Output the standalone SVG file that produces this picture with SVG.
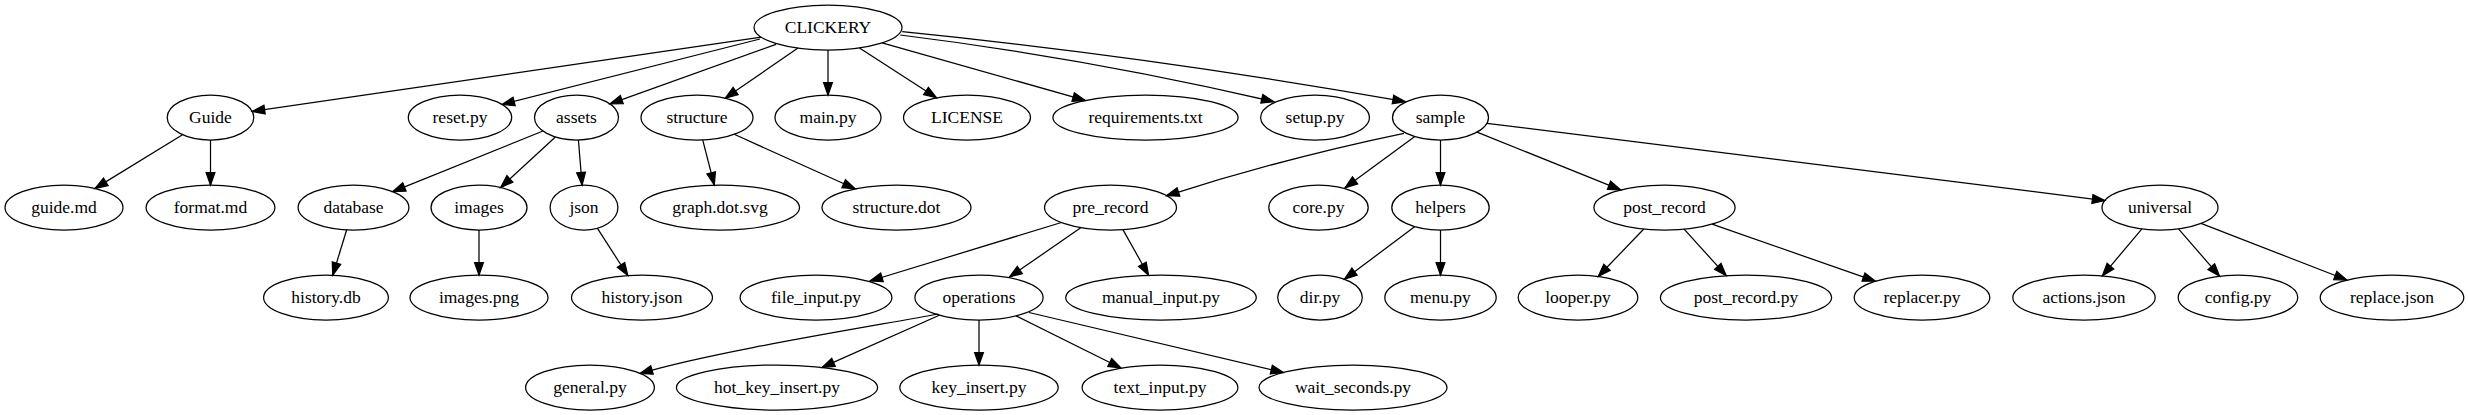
<svg xmlns="http://www.w3.org/2000/svg" width="2468" height="415" viewBox="0 0 2468 415">
<style>
.n ellipse{fill:none;stroke:#000;stroke-width:1.25}
.n text{font-family:'Liberation Serif','DejaVu Serif',serif;font-size:17.5px;text-anchor:middle;fill:#000}
#edges path{fill:none;stroke:#000;stroke-width:1.25;marker-end:url(#ah)}
</style>
<defs>
<marker id="ah" markerUnits="userSpaceOnUse" viewBox="-15 -7 17 14" markerWidth="17" markerHeight="14" refX="0" refY="0" orient="auto" overflow="visible">
<path d="M-12.5,-4.4 L0,0 L-12.5,4.4 Z" fill="#000" stroke="#000" stroke-width="1.25"/>
</marker>
</defs>
<rect width="2468" height="415" fill="#fff"/>
<g id="edges">
<path d="M761.3,37.2 L252.2,111.4"/>
<path d="M760,39 L502,104.5"/>
<path d="M776,44.3 L610,103.8"/>
<path d="M798,48.1 L725.3,98.1"/>
<path d="M828,50 L828,95"/>
<path d="M859.5,47.9 L936.5,97.8"/>
<path d="M882.1,42.8 L1085.2,100.4"/>
<path d="M900.3,35 C1026,50.6 1150.6,72.9 1274,101.7"/>
<path d="M902.2,31.7 C1070.8,48.6 1238.5,72 1405.3,101.7"/>
<path d="M182.5,134.7 L95.1,188.4"/>
<path d="M210.5,140 L210.5,185"/>
<path d="M543,131 L392.8,191.6"/>
<path d="M555.4,137 L500.7,187.4"/>
<path d="M578.4,140 L582.1,185"/>
<path d="M702.7,139.9 L714.3,185"/>
<path d="M734.2,134.3 L855.1,188.8"/>
<path d="M1404,133.3 Q1284.6,158 1166.5,195.8"/>
<path d="M1414.8,136.5 L1345,187.8"/>
<path d="M1440.5,140 L1440.5,185"/>
<path d="M1477,132.1 L1620.6,189.9"/>
<path d="M1486.9,123.3 L2104.8,200.6"/>
<path d="M346.7,229.8 L332.8,275.1"/>
<path d="M479,230 L479,275"/>
<path d="M597.3,228.2 L627.8,275.5"/>
<path d="M1061.4,222.5 L870,281"/>
<path d="M1081.1,227.6 L1009.5,277"/>
<path d="M1122.9,229.6 L1148.5,275.2"/>
<path d="M1414.9,226.6 L1344.5,279.2"/>
<path d="M1440.5,230 L1440.5,275"/>
<path d="M1643.8,229 L1598.3,276.3"/>
<path d="M1684.1,229.1 L1726.2,275.6"/>
<path d="M1712.1,224.1 L1875.3,281.2"/>
<path d="M2141.9,228.9 L2102.4,275.8"/>
<path d="M2178.5,228.8 L2219.5,276.1"/>
<path d="M2201,223.4 L2346.9,280"/>
<path d="M938.3,314 C862,328 712,352 640,373.5"/>
<path d="M939.3,315.2 L822.1,367.4"/>
<path d="M979,320 L979,365"/>
<path d="M1016,315.9 L1120.9,368"/>
<path d="M1029,312.5 L1283.5,372.5"/>
</g>
<g id="CLICKERY" class="n"><ellipse cx="828" cy="27.5" rx="74" ry="22.5"/><text x="828" y="33" font-family="Liberation Serif">CLICKERY</text></g>
<g id="Guide" class="n"><ellipse cx="210.5" cy="117.5" rx="43.3" ry="22.5"/><text x="210.5" y="123" font-family="Liberation Serif">Guide</text></g>
<g id="reset_py" class="n"><ellipse cx="460" cy="117.5" rx="51.7" ry="22.5"/><text x="460" y="123" font-family="Liberation Serif">reset.py</text></g>
<g id="assets" class="n"><ellipse cx="576.5" cy="117.5" rx="42" ry="22.5"/><text x="576.5" y="123" font-family="Liberation Serif">assets</text></g>
<g id="structure" class="n"><ellipse cx="697" cy="117.5" rx="56" ry="22.5"/><text x="697" y="123" font-family="Liberation Serif">structure</text></g>
<g id="main_py" class="n"><ellipse cx="828" cy="117.5" rx="53" ry="22.5"/><text x="828" y="123" font-family="Liberation Serif">main.py</text></g>
<g id="LICENSE" class="n"><ellipse cx="967" cy="117.5" rx="63.5" ry="22.5"/><text x="967" y="123" font-family="Liberation Serif">LICENSE</text></g>
<g id="requirements_txt" class="n"><ellipse cx="1145.5" cy="117.5" rx="92.6" ry="22.5"/><text x="1145.5" y="123" font-family="Liberation Serif">requirements.txt</text></g>
<g id="setup_py" class="n"><ellipse cx="1315" cy="117.5" rx="54.4" ry="22.5"/><text x="1315" y="123" font-family="Liberation Serif">setup.py</text></g>
<g id="sample" class="n"><ellipse cx="1440.5" cy="117.5" rx="48" ry="22.5"/><text x="1440.5" y="123" font-family="Liberation Serif">sample</text></g>
<g id="guide_md" class="n"><ellipse cx="64" cy="207.5" rx="59" ry="22.5"/><text x="64" y="213" font-family="Liberation Serif">guide.md</text></g>
<g id="format_md" class="n"><ellipse cx="210.5" cy="207.5" rx="64.4" ry="22.5"/><text x="210.5" y="213" font-family="Liberation Serif">format.md</text></g>
<g id="database" class="n"><ellipse cx="353.5" cy="207.5" rx="55.4" ry="22.5"/><text x="353.5" y="213" font-family="Liberation Serif">database</text></g>
<g id="images" class="n"><ellipse cx="479" cy="207.5" rx="48" ry="22.5"/><text x="479" y="213" font-family="Liberation Serif">images</text></g>
<g id="json" class="n"><ellipse cx="584" cy="207.5" rx="33.9" ry="22.5"/><text x="584" y="213" font-family="Liberation Serif">json</text></g>
<g id="graph_dot_svg" class="n"><ellipse cx="720" cy="207.5" rx="79.5" ry="22.5"/><text x="720" y="213" font-family="Liberation Serif">graph.dot.svg</text></g>
<g id="structure_dot" class="n"><ellipse cx="896.5" cy="207.5" rx="74.5" ry="22.5"/><text x="896.5" y="213" font-family="Liberation Serif">structure.dot</text></g>
<g id="pre_record" class="n"><ellipse cx="1110.5" cy="207.5" rx="66" ry="22.5"/><text x="1110.5" y="213" font-family="Liberation Serif">pre_record</text></g>
<g id="core_py" class="n"><ellipse cx="1318.5" cy="207.5" rx="49.7" ry="22.5"/><text x="1318.5" y="213" font-family="Liberation Serif">core.py</text></g>
<g id="helpers" class="n"><ellipse cx="1440.5" cy="207.5" rx="48.7" ry="22.5"/><text x="1440.5" y="213" font-family="Liberation Serif">helpers</text></g>
<g id="post_record" class="n"><ellipse cx="1664.5" cy="207.5" rx="70.6" ry="22.5"/><text x="1664.5" y="213" font-family="Liberation Serif">post_record</text></g>
<g id="universal" class="n"><ellipse cx="2160" cy="207.5" rx="58" ry="22.5"/><text x="2160" y="213" font-family="Liberation Serif">universal</text></g>
<g id="history_db" class="n"><ellipse cx="326" cy="297.5" rx="62.4" ry="22.5"/><text x="326" y="303" font-family="Liberation Serif">history.db</text></g>
<g id="images_png" class="n"><ellipse cx="479" cy="297.5" rx="69" ry="22.5"/><text x="479" y="303" font-family="Liberation Serif">images.png</text></g>
<g id="history_json" class="n"><ellipse cx="642" cy="297.5" rx="70.5" ry="22.5"/><text x="642" y="303" font-family="Liberation Serif">history.json</text></g>
<g id="file_input_py" class="n"><ellipse cx="816" cy="297.5" rx="75.9" ry="22.5"/><text x="816" y="303" font-family="Liberation Serif">file_input.py</text></g>
<g id="operations" class="n"><ellipse cx="979" cy="297.5" rx="64.1" ry="22.5"/><text x="979" y="303" font-family="Liberation Serif">operations</text></g>
<g id="manual_input_py" class="n"><ellipse cx="1161" cy="297.5" rx="95.3" ry="22.5"/><text x="1161" y="303" font-family="Liberation Serif">manual_input.py</text></g>
<g id="dir_py" class="n"><ellipse cx="1320" cy="297.5" rx="42.3" ry="22.5"/><text x="1320" y="303" font-family="Liberation Serif">dir.py</text></g>
<g id="menu_py" class="n"><ellipse cx="1440.5" cy="297.5" rx="55.7" ry="22.5"/><text x="1440.5" y="303" font-family="Liberation Serif">menu.py</text></g>
<g id="looper_py" class="n"><ellipse cx="1578" cy="297.5" rx="59.8" ry="22.5"/><text x="1578" y="303" font-family="Liberation Serif">looper.py</text></g>
<g id="post_record_py" class="n"><ellipse cx="1746" cy="297.5" rx="85.6" ry="22.5"/><text x="1746" y="303" font-family="Liberation Serif">post_record.py</text></g>
<g id="replacer_py" class="n"><ellipse cx="1922" cy="297.5" rx="67.8" ry="22.5"/><text x="1922" y="303" font-family="Liberation Serif">replacer.py</text></g>
<g id="actions_json" class="n"><ellipse cx="2084" cy="297.5" rx="71.2" ry="22.5"/><text x="2084" y="303" font-family="Liberation Serif">actions.json</text></g>
<g id="config_py" class="n"><ellipse cx="2238" cy="297.5" rx="59.8" ry="22.5"/><text x="2238" y="303" font-family="Liberation Serif">config.py</text></g>
<g id="replace_json" class="n"><ellipse cx="2392" cy="297.5" rx="71.8" ry="22.5"/><text x="2392" y="303" font-family="Liberation Serif">replace.json</text></g>
<g id="general_py" class="n"><ellipse cx="590" cy="387.5" rx="64.4" ry="22.5"/><text x="590" y="393" font-family="Liberation Serif">general.py</text></g>
<g id="hot_key_insert_py" class="n"><ellipse cx="777" cy="387.5" rx="100.6" ry="22.5"/><text x="777" y="393" font-family="Liberation Serif">hot_key_insert.py</text></g>
<g id="key_insert_py" class="n"><ellipse cx="979" cy="387.5" rx="79.2" ry="22.5"/><text x="979" y="393" font-family="Liberation Serif">key_insert.py</text></g>
<g id="text_input_py" class="n"><ellipse cx="1160" cy="387.5" rx="77.9" ry="22.5"/><text x="1160" y="393" font-family="Liberation Serif">text_input.py</text></g>
<g id="wait_seconds_py" class="n"><ellipse cx="1353" cy="387.5" rx="94" ry="22.5"/><text x="1353" y="393" font-family="Liberation Serif">wait_seconds.py</text></g>
</svg>
